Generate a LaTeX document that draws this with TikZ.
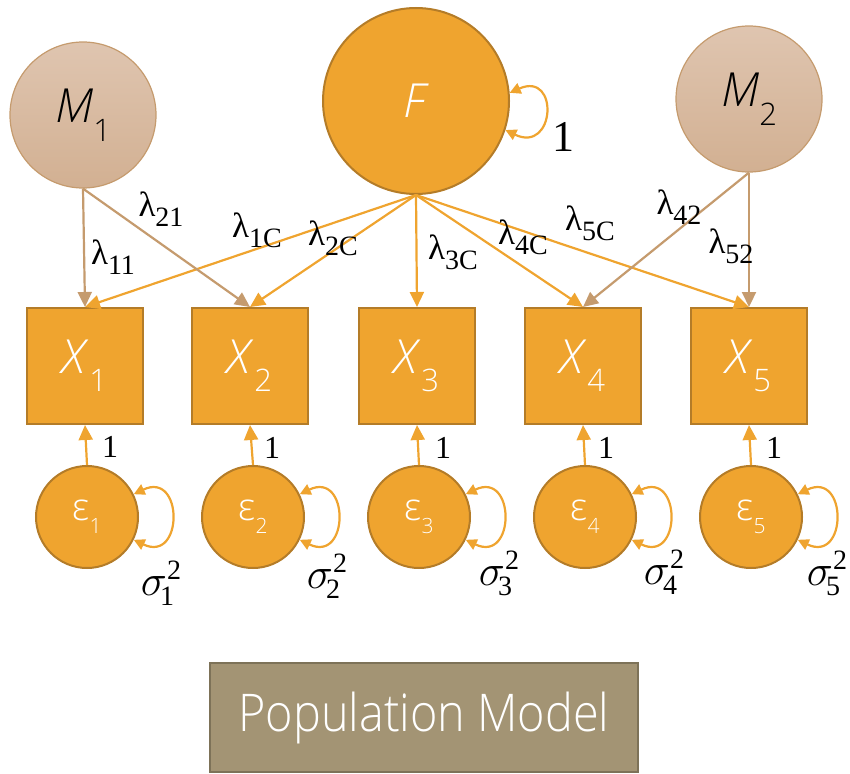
\documentclass[tikz,border=0pt]{standalone}
\usepackage{fix-cm}
\usepackage{fontspec}
\setmainfont{Liberation Serif}
\newfontfamily\sff{Open Sans Light}
\usetikzlibrary{arrows.meta}
\definecolor{org}{RGB}{239,164,47}
\definecolor{orgd}{RGB}{180,124,40}
\definecolor{tanc}{RGB}{197,155,110}
\definecolor{mtop}{RGB}{223,197,176}
\definecolor{mbot}{RGB}{210,176,146}
\definecolor{popc}{RGB}{163,148,116}
\definecolor{popd}{RGB}{125,114,88}
\newcommand\lmb[1]{λ\raisebox{-10pt}{\fontsize{28}{30}\selectfont #1}}
\newcommand\sgm[1]{$\sigma$\kern-7pt\rlap{\raisebox{-10pt}{\fontsize{28}{28}\selectfont #1}}\kern7pt\raisebox{16pt}{\fontsize{28}{28}\selectfont 2}}
\begin{document}
\begin{tikzpicture}[x=1pt,y=-1pt,
  lat/.style={circle, minimum size=186pt, fill=org, draw=orgd, line width=2pt, inner sep=0, text=white},
  mod/.style={circle, minimum size=146pt, top color=mtop, bottom color=mbot, draw=tanc, line width=1.2pt, inner sep=0},
  obs/.style={rectangle, minimum size=116pt, fill=org, draw=orgd, line width=2pt, inner sep=0, text=white},
  err/.style={circle, minimum size=102pt, fill=org, draw=orgd, line width=2pt, inner sep=0, text=white},
  oarr/.style={draw=org, line width=2.2pt, -{Triangle[length=15pt,width=14pt]}},
  tarr/.style={draw=tanc, line width=2.2pt, -{Triangle[length=15pt,width=14pt]}},
  lp/.style={draw=org, line width=2.2pt, {Triangle[length=11pt,width=11pt]}-{Triangle[length=11pt,width=11pt]}},
  lam/.style={font=\fontsize{35}{37}\selectfont, inner sep=0},
  one/.style={font=\fontsize{32}{34}\selectfont, inner sep=0},
  sig/.style={font=\fontsize{44}{46}\selectfont, inner sep=0},
  bigf/.style={font=\sff\fontsize{47}{48}\selectfont},
  epsf/.style={font=\sff\fontsize{38}{40}\selectfont},
  popbox/.style={rectangle, minimum width=428pt, minimum height=109pt, fill=popc, draw=popd, line width=1.5pt, text=white, font=\sff\fontsize{52}{56}\selectfont}
]
\useasboundingbox (0,0) rectangle (850,773);

% latent and method factors
\node[mod, bigf] (M1) at (83,115) {\textit{M}\raisebox{-19pt}{\fontsize{31}{32}\selectfont 1}};
\node[lat, bigf] (F) at (416,101) {\textit{F}};
\node[mod, bigf] (M2) at (749,99) {\textit{M}\raisebox{-19pt}{\fontsize{31}{32}\selectfont 2}};

% observed
\foreach \i/\x in {1/85,2/250,3/417,4/583,5/749}{
  \node[obs, bigf] (X\i) at (\x,366) {\textit{X}\raisebox{-18pt}{\fontsize{31}{32}\selectfont \i}};
}
% errors
\foreach \i/\x in {1/87,2/253,3/419,4/585,5/751}{
  \node[err, epsf] (e\i) at (\x,517) {ε\raisebox{-13pt}{\fontsize{21}{22}\selectfont \i}};
}

% loadings from F
\foreach \i in {1,...,5}{
  \draw[oarr] (F.south) -- (X\i.north);
}
% method loadings
\draw[tarr] (M1.south) -- (X1.north);
\draw[tarr] (M1.south) -- (X2.north);
\draw[tarr] (M2.south) -- (X4.north);
\draw[tarr] (M2.south) -- (X5.north);

% error paths
\foreach \i in {1,...,5}{
  \draw[oarr] (e\i.north) -- (X\i.south);
  \draw[lp] (e\i.26) .. controls +(50,-24) and +(50,24) .. (e\i.-26);
}
% variance of F
\draw[lp] (F.5) .. controls +(50,-22) and +(50,24) .. (F.-18);
\node[font=\fontsize{44}{46}\selectfont, inner sep=0] (fone) at (563,137) {1};

% lambda labels
\node[lam] (l11) at (113,257) {\lmb{11}};
\node[lam] (l21) at (161,209) {\lmb{21}};
\node[lam] (l1c) at (257,230) {\lmb{1C}};
\node[lam] (l2c) at (333,238) {\lmb{2C}};
\node[lam] (l3c) at (453,252) {\lmb{3C}};
\node[lam] (l4c) at (523,237) {\lmb{4C}};
\node[lam] (l5c) at (590,223) {\lmb{5C}};
\node[lam] (l42) at (679,207) {\lmb{42}};
\node[lam] (l52) at (731,246) {\lmb{52}};

% ones
\node[one] (o1) at (110,447) {1};
\node[one] (o2) at (272,448) {1};
\node[one] (o3) at (443,448) {1};
\node[one] (o4) at (606,448) {1};
\node[one] (o5) at (774,448) {1};

% sigmas
\node[sig] (s1) at (161,583) {\sgm{1}};
\node[sig] (s2) at (327,576) {\sgm{2}};
\node[sig] (s3) at (499,573) {\sgm{3}};
\node[sig] (s4) at (664,572) {\sgm{4}};
\node[sig] (s5) at (827,573) {\sgm{5}};

% title box
\node[popbox] (pop) at (424,717.5) {\scalebox{0.9}[1]{Population Model}};
\end{tikzpicture}
\end{document}
